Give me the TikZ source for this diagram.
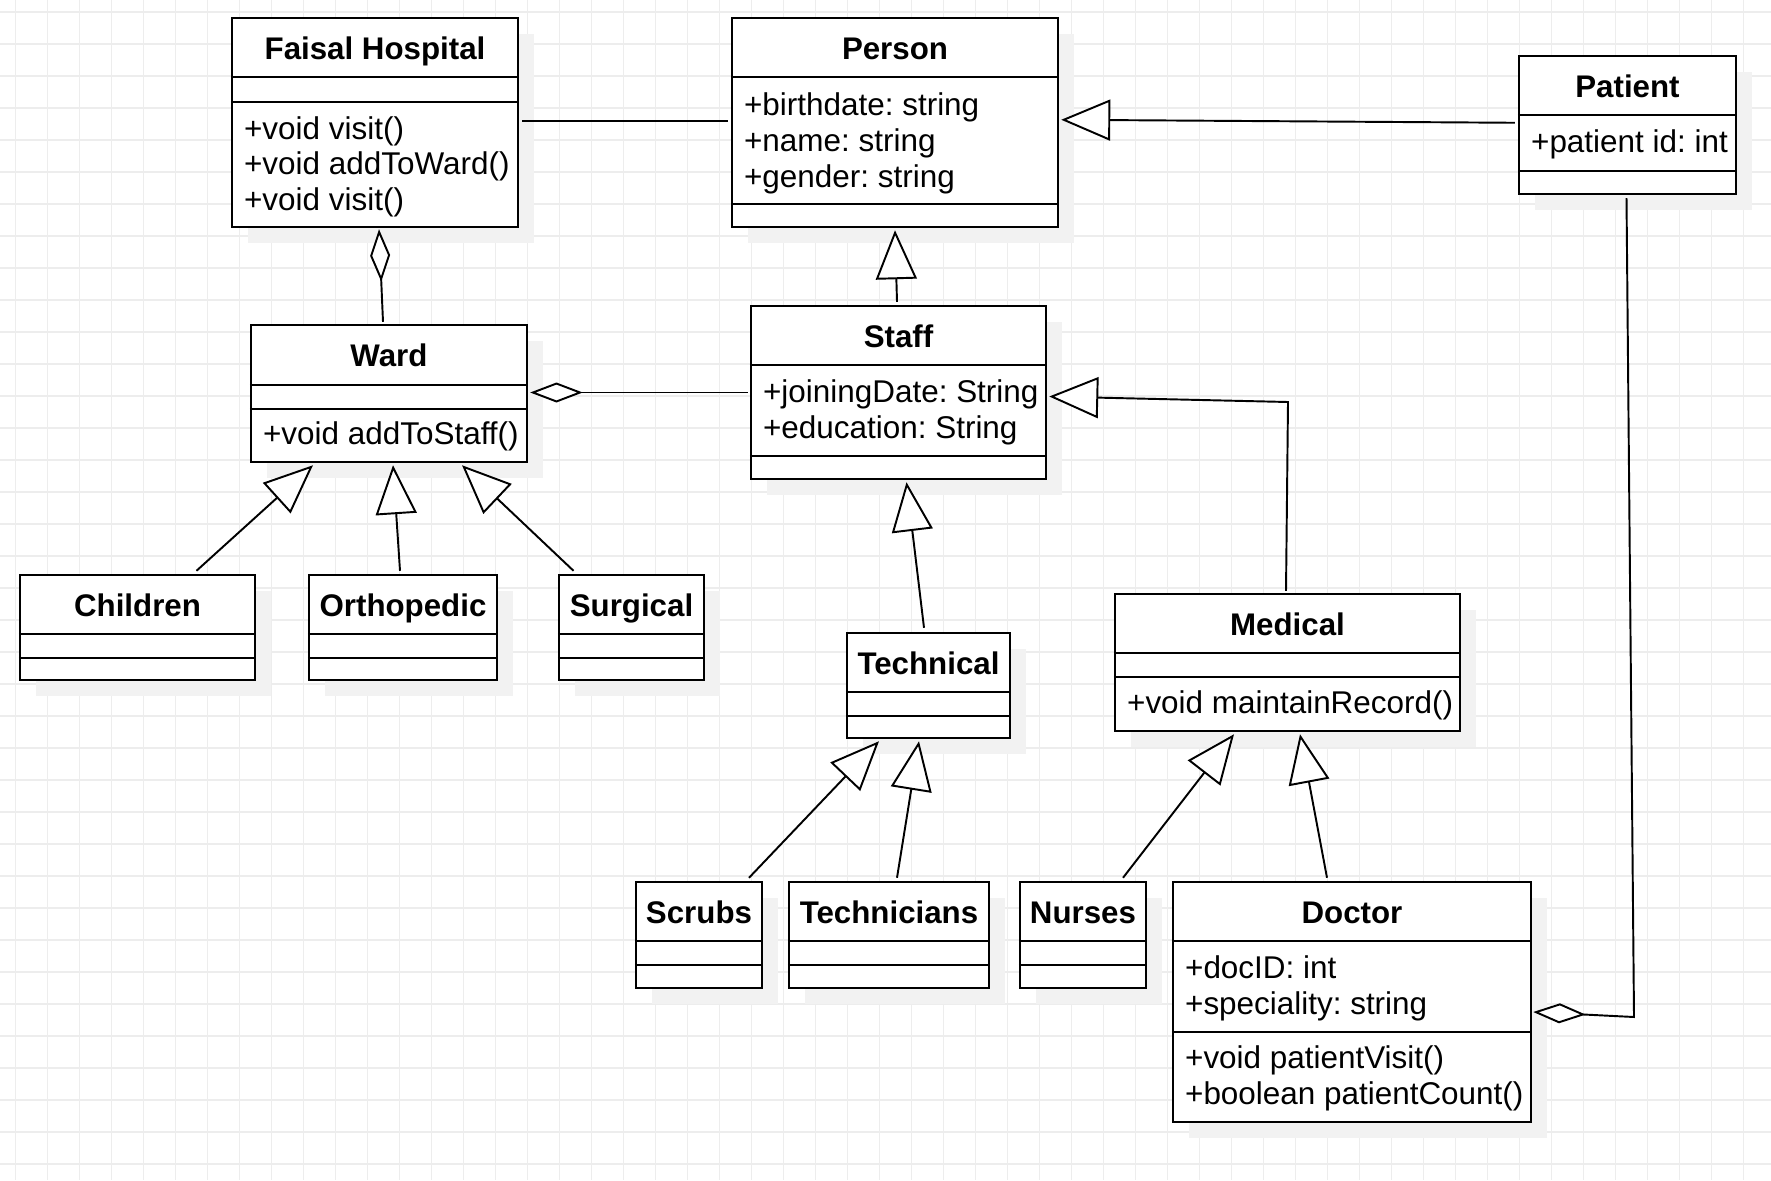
\documentclass[tikz,border=0pt]{standalone}
\usepackage{fontspec}
\setmainfont{Liberation Sans}
\usetikzlibrary{arrows.meta,calc,fit,shadows}
\frenchspacing

\begin{document}
\begin{tikzpicture}[x=0.02cm,y=-0.02cm,
	classbox/.style={draw=black,line width=1.4pt,fill=white,inner sep=0pt,
		drop shadow={shadow xshift=0.32cm,shadow yshift=-0.32cm,fill=black!5,opacity=1}},
	divider/.style={draw=black,line width=1.4pt},
	classname/.style={font=\fontsize{17.8pt}{20.4pt}\selectfont\bfseries,inner sep=0pt,anchor=base},
	member/.style={font=\fontsize{17.9pt}{20.4pt}\selectfont,align=left,anchor=west,inner sep=0pt},
	link/.style={line width=1.1pt},
	inherit/.style={link,-{Triangle[length=9.8mm,width=8.2mm,fill=white]}},
	aggr/.style={link,-{Diamond[length=10.5mm,width=4mm,fill=white]}},
	gridline/.style={draw=black!7,line width=0.6pt}]

% background and grid
	\fill[white] (0,0) rectangle (1771,1180);
	\useasboundingbox (0,0) rectangle (1771,1180);
	\foreach \gx in {0,...,54}
		\draw[gridline] (15.3+32*\gx,0) -- (15.3+32*\gx,1180);
	\foreach \gy in {0,...,36}
		\draw[gridline] (0,12+32*\gy) -- (1771,12+32*\gy);

% classes
	\node[classbox,fit={(232,18) (518,227)}] (faisal) {};
	\node[classname] at ($(faisal.north)+(0,43)$) {Faisal Hospital};
	\draw[divider] ($(faisal.north west)+(0,60)$) -- ($(faisal.north east)+(0,60)$);
	\draw[divider] ($(faisal.north west)+(0,85)$) -- ($(faisal.north east)+(0,85)$);
	\node[member] at ($(faisal.north west)+(13,150)$) {+void visit()\\+void addToWard()\\+void visit()};

	\node[classbox,fit={(732,18) (1058,227)}] (person) {};
	\node[classname] at ($(person.north)+(0,43)$) {Person};
	\draw[divider] ($(person.north west)+(0,60)$) -- ($(person.north east)+(0,60)$);
	\draw[divider] ($(person.north west)+(0,187)$) -- ($(person.north east)+(0,187)$);
	\node[member] at ($(person.north west)+(13,126.5)$) {+birthdate: string\\+name: string\\+gender: string};

	\node[classbox,fit={(1519,56) (1736,194)}] (patient) {};
	\node[classname] at ($(patient.north)+(0,43)$) {Patient};
	\draw[divider] ($(patient.north west)+(0,60)$) -- ($(patient.north east)+(0,60)$);
	\draw[divider] ($(patient.north west)+(0,116)$) -- ($(patient.north east)+(0,116)$);
	\node[member] at ($(patient.north west)+(13,90)$) {+patient id: int};

	\node[classbox,fit={(251,325) (527,462)}] (ward) {};
	\node[classname] at ($(ward.north)+(0,43)$) {Ward};
	\draw[divider] ($(ward.north west)+(0,61)$) -- ($(ward.north east)+(0,61)$);
	\draw[divider] ($(ward.north west)+(0,85)$) -- ($(ward.north east)+(0,85)$);
	\node[member] at ($(ward.north west)+(13,113)$) {+void addToStaff()};

	\node[classbox,fit={(751,306) (1046,479)}] (staff) {};
	\node[classname] at ($(staff.north)+(0,43)$) {Staff};
	\draw[divider] ($(staff.north west)+(0,60)$) -- ($(staff.north east)+(0,60)$);
	\draw[divider] ($(staff.north west)+(0,151)$) -- ($(staff.north east)+(0,151)$);
	\node[member] at ($(staff.north west)+(13,108)$) {+joiningDate: String\\+education: String};

	\node[classbox,fit={(20,575) (255,680)}] (children) {};
	\node[classname] at ($(children.north)+(0,43)$) {Children};
	\draw[divider] ($(children.north west)+(0,60)$) -- ($(children.north east)+(0,60)$);
	\draw[divider] ($(children.north west)+(0,84)$) -- ($(children.north east)+(0,84)$);

	\node[classbox,fit={(309,575) (497,680)}] (orthopedic) {};
	\node[classname] at ($(orthopedic.north)+(0,43)$) {Orthopedic};
	\draw[divider] ($(orthopedic.north west)+(0,60)$) -- ($(orthopedic.north east)+(0,60)$);
	\draw[divider] ($(orthopedic.north west)+(0,84)$) -- ($(orthopedic.north east)+(0,84)$);

	\node[classbox,fit={(559,575) (704,680)}] (surgical) {};
	\node[classname] at ($(surgical.north)+(0,43)$) {Surgical};
	\draw[divider] ($(surgical.north west)+(0,60)$) -- ($(surgical.north east)+(0,60)$);
	\draw[divider] ($(surgical.north west)+(0,84)$) -- ($(surgical.north east)+(0,84)$);

	\node[classbox,fit={(847,633) (1010,738)}] (technical) {};
	\node[classname] at ($(technical.north)+(0,43)$) {Technical};
	\draw[divider] ($(technical.north west)+(0,60)$) -- ($(technical.north east)+(0,60)$);
	\draw[divider] ($(technical.north west)+(0,84)$) -- ($(technical.north east)+(0,84)$);

	\node[classbox,fit={(1115,594) (1460,731)}] (medical) {};
	\node[classname] at ($(medical.north)+(0,43)$) {Medical};
	\draw[divider] ($(medical.north west)+(0,60)$) -- ($(medical.north east)+(0,60)$);
	\draw[divider] ($(medical.north west)+(0,84)$) -- ($(medical.north east)+(0,84)$);
	\node[member] at ($(medical.north west)+(13,113)$) {+void maintainRecord()};

	\node[classbox,fit={(636,882) (762,988)}] (scrubs) {};
	\node[classname] at ($(scrubs.north)+(0,43)$) {Scrubs};
	\draw[divider] ($(scrubs.north west)+(0,60)$) -- ($(scrubs.north east)+(0,60)$);
	\draw[divider] ($(scrubs.north west)+(0,84)$) -- ($(scrubs.north east)+(0,84)$);

	\node[classbox,fit={(789,882) (989,988)}] (technicians) {};
	\node[classname] at ($(technicians.north)+(0,43)$) {Technicians};
	\draw[divider] ($(technicians.north west)+(0,60)$) -- ($(technicians.north east)+(0,60)$);
	\draw[divider] ($(technicians.north west)+(0,84)$) -- ($(technicians.north east)+(0,84)$);

	\node[classbox,fit={(1020,882) (1146,988)}] (nurses) {};
	\node[classname] at ($(nurses.north)+(0,43)$) {Nurses};
	\draw[divider] ($(nurses.north west)+(0,60)$) -- ($(nurses.north east)+(0,60)$);
	\draw[divider] ($(nurses.north west)+(0,84)$) -- ($(nurses.north east)+(0,84)$);

	\node[classbox,fit={(1173,882) (1531,1122)}] (doctor) {};
	\node[classname] at ($(doctor.north)+(0,43)$) {Doctor};
	\draw[divider] ($(doctor.north west)+(0,60)$) -- ($(doctor.north east)+(0,60)$);
	\draw[divider] ($(doctor.north west)+(0,151)$) -- ($(doctor.north east)+(0,151)$);
	\node[member] at ($(doctor.north west)+(13,108)$) {+docID: int\\+speciality: string};
	\node[member] at ($(doctor.north west)+(13,198)$) {+void patientVisit()\\+boolean patientCount()};

	%Links
	% association and aggregations
	\draw[link] ($(faisal.north east)+(3,104)$) -- ($(person.north west)+(-3,104)$);
	\draw[aggr] ($(ward.north)+(-6,-2)$) -- ($(faisal.south)+(4,1)$);
	\draw[aggr] ($(staff.west)+(-2,0)$) -- ($(ward.east)+(2,-1)$);
	\coordinate (patbend) at (1634,1017);
	\draw[aggr] ($(patient.south)+(-1,3)$) -- (patbend) -- ($(doctor.east)+(1,10)$);

	% generalizations
	\draw[inherit] ($(patient.north west)+(-3,68)$) -- ($(person.north east)+(2,103)$);
	\draw[inherit] ($(staff.north)+(-1.5,-3)$) -- ($(person.south)+(0,2)$);
	\coordinate (medbend) at (1288,402);
	\draw[inherit] ($(medical.north)+(-1.5,-2)$) -- (medbend) -- ($(staff.east)+(2,4)$);
	\draw[inherit] ($(technical.north)+(-4.5,-4)$) -- ($(staff.south)+(8,2)$);

	\draw[inherit] ($(children.north)+(59,-3)$) -- ($(ward.south)+(-76,2)$);
	\draw[inherit] ($(orthopedic.north)+(-3,-3)$) -- ($(ward.south)+(4,2)$);
	\draw[inherit] ($(surgical.north)+(-58,-3)$) -- ($(ward.south)+(73,2)$);

	\draw[inherit] ($(scrubs.north)+(50,-3)$) -- ($(technical.south)+(-49.5,2)$);
	\draw[inherit] ($(technicians.north)+(8,-3)$) -- ($(technical.south)+(-9.5,2)$);

	\draw[inherit] ($(nurses.north)+(40,-3)$) -- ($(medical.south)+(-53.5,2)$);
	\draw[inherit] ($(doctor.north)+(-25,-3)$) -- ($(medical.south)+(12.5,2)$);
\end{tikzpicture}
\end{document}
